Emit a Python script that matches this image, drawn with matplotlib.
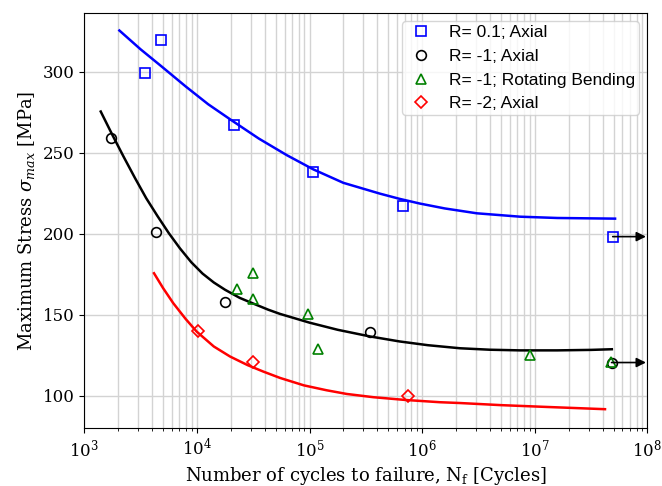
import matplotlib.pyplot as plt

plt.rcParams.update({
    'font.family': 'DejaVu Serif',
    'font.size': 12,
    'axes.labelsize': 13,
    'mathtext.fontset': 'dejavuserif',
})

# test data
r01_n = [3480, 4830, 21400, 108000, 675000, 4.92e7]
r01_s = [299.2, 319.6, 267.3, 237.9, 217.3, 198.3]
rm1_n = [1727, 4300, 17800, 344000, 4.8e7]
rm1_s = [259.1, 201.2, 158.2, 139.7, 120.6]
rb_n = [22900, 31300, 31300, 97500, 118000, 9.08e6, 4.7e7]
rb_s = [165.9, 175.7, 160.0, 150.4, 128.8, 125.3, 121.0]
rm2_n = [10300, 31600, 754000]
rm2_s = [140.1, 121.2, 100.2]

# fitted curves
fit01_n = [2050, 3162, 4860, 7943, 12589, 21000, 35481, 63096, 108000, 199526,
           423000, 630957, 955000, 1584893, 3.05e6, 7.4e6, 15848932, 5.16e7]
fit01_s = [325.5, 313.9, 303.3, 291.0, 280.0, 269.4, 258.8, 248.5, 239.8, 231.5,
           224.8, 221.6, 218.7, 215.7, 212.7, 210.6, 209.8, 209.4]
fitm1_n = [1400, 1778, 2239, 2818, 3548, 4467, 5623, 7080, 8913, 11220, 14125,
           17783, 23988, 31623, 43000, 54700, 100000, 177828, 344000, 630957,
           1122018, 2.17e6, 3981072, 7.36e6, 15848932, 31622777, 4.83e7]
fitm1_s = [275.5, 261.0, 247.5, 234.5, 222.0, 211.0, 200.5, 191.0, 182.5, 175.5,
           170.0, 165.5, 160.5, 157.0, 153.2, 150.6, 145.2, 140.8, 136.7, 133.6,
           131.3, 129.4, 128.5, 128.1, 128.1, 128.4, 128.8]
fitm2_n = [4160, 5012, 6170, 7943, 9950, 14125, 19700, 28184, 38900, 54700, 89125,
           141254, 214000, 369000, 707946, 1.44e6, 2.17e6, 5011872, 12589254,
           25118864, 4.2e7]
fitm2_s = [175.7, 166.5, 157.2, 147.5, 139.7, 130.5, 124.3, 119.0, 115.0, 111.1, 106.5,
           103.5, 101.2, 99.2, 97.5, 96.1, 95.6, 94.3, 93.2,
           92.4, 91.8]

# run-outs
runout_n = [4.92e7, 4.8e7]
runout_s = [198.3, 120.6]

fig, ax = plt.subplots(figsize=(6.62, 4.86), dpi=100)
fig.subplots_adjust(left=0.1273, right=0.978, bottom=0.1187, top=0.9739)

ax.plot(fit01_n, fit01_s, color='b', lw=1.8)
ax.plot(fitm1_n, fitm1_s, color='k', lw=1.8)
ax.plot(fitm2_n, fitm2_s, color='r', lw=1.8)

mk = dict(ls='none', mfc='none', ms=7, mew=1.2)
ax.plot(r01_n, r01_s, marker='s', color='b', label='R= 0.1; Axial', **mk)
ax.plot(rm1_n, rm1_s, marker='o', color='k', label='R= -1; Axial', **mk)
ax.plot(rb_n, rb_s, marker='^', color='g', label='R= -1; Rotating Bending', **mk)
ax.plot(rm2_n, rm2_s, marker='D', color='r', label='R= -2; Axial', ms=6, ls='none', mfc='none', mew=1.2)

for n, s in zip(runout_n, runout_s):
    ax.annotate('', xy=(9.7e7, s), xytext=(n, s),
                arrowprops=dict(arrowstyle='-|>', color='k', lw=1.2, mutation_scale=14,
                                shrinkA=0, shrinkB=0))

ax.set_xscale('log')
ax.set_xlim(1e3, 1e8)
ax.set_ylim(80, 336.5)
ax.set_yticks([100, 150, 200, 250, 300])
ax.grid(True, which='major', color='lightgray', lw=1)
ax.grid(True, which='minor', axis='x', color='lightgray', lw=1)
ax.set_axisbelow(True)

ax.set_xlabel(r'Number of cycles to failure, N$_\mathrm{f}$ [Cycles]')
ax.set_ylabel(r'Maximum Stress $\sigma_{max}$ [MPa]')

ax.legend(loc='upper right', prop={'family': 'Liberation Sans', 'size': 12.5},
          handletextpad=0.7, handlelength=1.8, borderaxespad=0.5, labelspacing=0.5,
          borderpad=0.2)

plt.savefig('out.png', dpi=100)
